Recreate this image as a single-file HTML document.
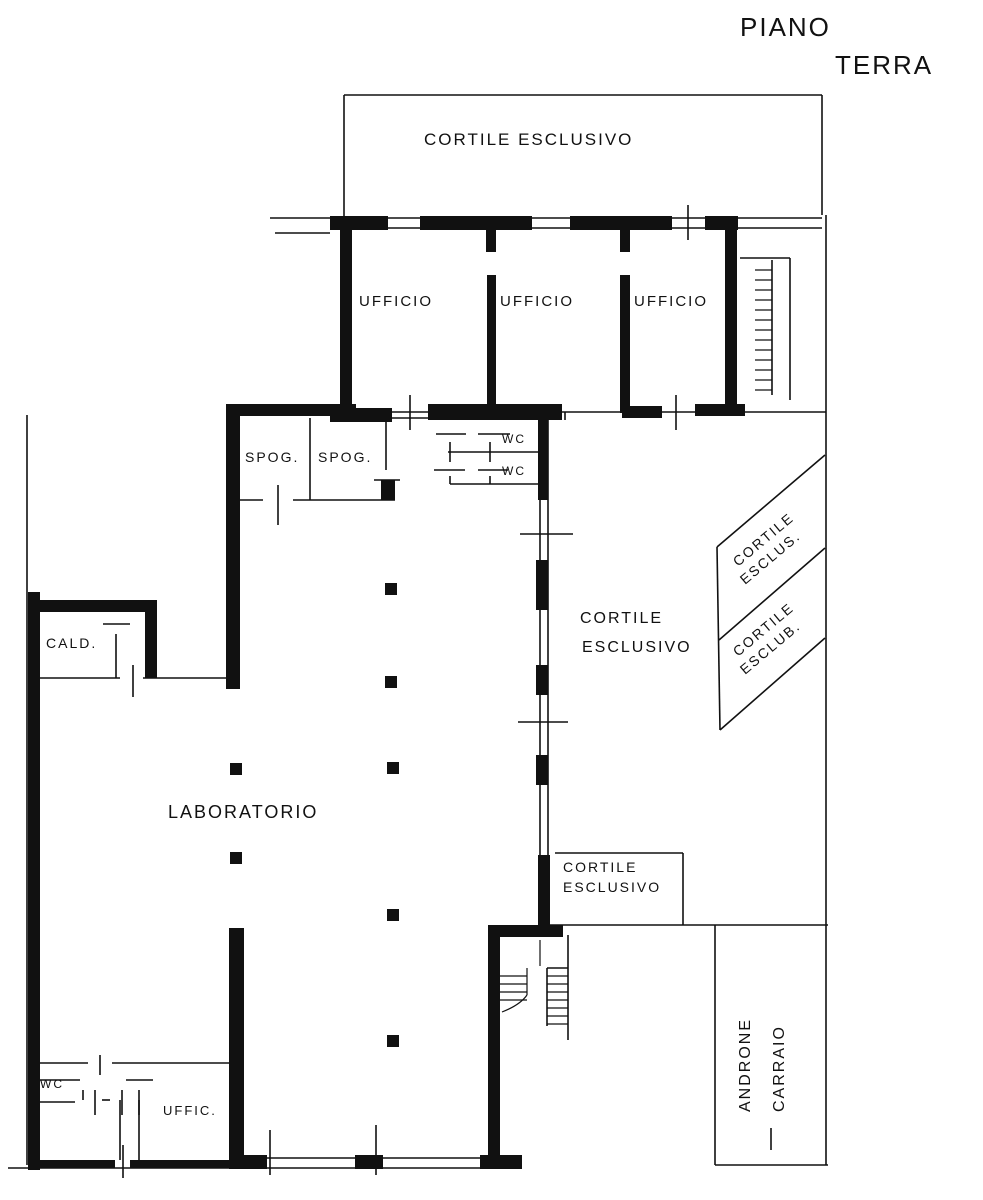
<!DOCTYPE html>
<html><head><meta charset="utf-8"><style>
html,body{margin:0;padding:0;background:#fff}
svg{display:block}
text{font-family:"Liberation Sans",sans-serif;fill:#111;letter-spacing:2px}
</style></head><body>
<svg width="983" height="1200" viewBox="0 0 983 1200" xmlns="http://www.w3.org/2000/svg">
<g stroke="#111" stroke-width="1.6" fill="none">
<line x1="344" y1="95" x2="822" y2="95"/>
<line x1="344" y1="95" x2="344" y2="218"/>
<line x1="822" y1="95" x2="822" y2="215"/>
<line x1="826" y1="215" x2="826" y2="1165"/>
<line x1="270" y1="218" x2="330" y2="218"/>
<line x1="275" y1="233" x2="330" y2="233"/>
<line x1="385" y1="218" x2="822" y2="218"/>
<line x1="385" y1="228" x2="822" y2="228"/>
<line x1="390" y1="412" x2="826" y2="412"/>
<line x1="390" y1="418" x2="430" y2="418"/>
<line x1="410" y1="395" x2="410" y2="430"/>
<line x1="676" y1="395" x2="676" y2="430"/>
<line x1="688" y1="205" x2="688" y2="240"/>
<line x1="740" y1="258" x2="790" y2="258"/>
<line x1="790" y1="258" x2="790" y2="400"/>
<line x1="772" y1="260" x2="772" y2="395"/>
<line x1="27" y1="415" x2="27" y2="1165"/>
<line x1="310" y1="418" x2="310" y2="500"/>
<line x1="240" y1="500" x2="263" y2="500"/>
<line x1="293" y1="500" x2="395" y2="500"/>
<line x1="278" y1="485" x2="278" y2="525"/>
<line x1="386" y1="422" x2="386" y2="470"/>
<line x1="374" y1="480" x2="400" y2="480"/>
<line x1="448" y1="452" x2="540" y2="452"/>
<line x1="450" y1="484" x2="540" y2="484"/>
<line x1="436" y1="434" x2="466" y2="434"/>
<line x1="478" y1="434" x2="510" y2="434"/>
<line x1="434" y1="470" x2="465" y2="470"/>
<line x1="478" y1="470" x2="508" y2="470"/>
<line x1="450" y1="442" x2="450" y2="462"/>
<line x1="490" y1="442" x2="490" y2="462"/>
<line x1="450" y1="476" x2="450" y2="484"/>
<line x1="490" y1="476" x2="490" y2="484"/>
<line x1="548" y1="420" x2="548" y2="925"/>
<line x1="540" y1="500" x2="540" y2="860"/>
<line x1="520" y1="534" x2="573" y2="534"/>
<line x1="518" y1="722" x2="568" y2="722"/>
<line x1="565" y1="412" x2="565" y2="420"/>
<line x1="717" y1="547" x2="825" y2="455"/>
<line x1="719" y1="640" x2="825" y2="548"/>
<line x1="720" y1="730" x2="825" y2="638"/>
<line x1="717" y1="547" x2="720" y2="730"/>
<line x1="555" y1="853" x2="683" y2="853"/>
<line x1="683" y1="853" x2="683" y2="925"/>
<line x1="545" y1="925" x2="828" y2="925"/>
<line x1="715" y1="925" x2="715" y2="1165"/>
<line x1="715" y1="1165" x2="828" y2="1165"/>
<line x1="771" y1="1128" x2="771" y2="1150"/>
<line x1="568" y1="935" x2="568" y2="1040"/>
<line x1="547" y1="968" x2="568" y2="968"/>
<line x1="547" y1="968" x2="547" y2="1026"/>
<g stroke-width="1.2">
<line x1="547" y1="976" x2="568" y2="976"/><line x1="547" y1="984" x2="568" y2="984"/>
<line x1="547" y1="992" x2="568" y2="992"/><line x1="547" y1="1000" x2="568" y2="1000"/>
<line x1="547" y1="1008" x2="568" y2="1008"/><line x1="547" y1="1016" x2="568" y2="1016"/>
<line x1="547" y1="1024" x2="568" y2="1024"/>
<line x1="500" y1="976" x2="527" y2="976"/><line x1="500" y1="984" x2="527" y2="984"/>
<line x1="500" y1="992" x2="527" y2="992"/><line x1="500" y1="1000" x2="527" y2="1000"/>
<line x1="527" y1="968" x2="527" y2="995"/>
<path d="M527 995 Q520 1005 502 1012"/>
<line x1="540" y1="940" x2="540" y2="966"/>
<line x1="755" y1="270" x2="772" y2="270"/><line x1="755" y1="280" x2="772" y2="280"/>
<line x1="755" y1="290" x2="772" y2="290"/><line x1="755" y1="300" x2="772" y2="300"/>
<line x1="755" y1="310" x2="772" y2="310"/><line x1="755" y1="320" x2="772" y2="320"/>
<line x1="755" y1="330" x2="772" y2="330"/><line x1="755" y1="340" x2="772" y2="340"/>
<line x1="755" y1="350" x2="772" y2="350"/><line x1="755" y1="360" x2="772" y2="360"/>
<line x1="755" y1="370" x2="772" y2="370"/><line x1="755" y1="380" x2="772" y2="380"/>
<line x1="755" y1="390" x2="772" y2="390"/>
</g>
<line x1="38" y1="678" x2="120" y2="678"/>
<line x1="143" y1="678" x2="234" y2="678"/>
<line x1="116" y1="634" x2="116" y2="678"/>
<line x1="103" y1="624" x2="130" y2="624"/>
<line x1="133" y1="665" x2="133" y2="697"/>
<line x1="35" y1="1063" x2="88" y2="1063"/>
<line x1="112" y1="1063" x2="234" y2="1063"/>
<line x1="100" y1="1055" x2="100" y2="1075"/>
<line x1="40" y1="1080" x2="80" y2="1080"/>
<line x1="126" y1="1080" x2="153" y2="1080"/>
<line x1="35" y1="1102" x2="75" y2="1102"/>
<line x1="83" y1="1090" x2="83" y2="1100"/>
<line x1="102" y1="1100" x2="110" y2="1100"/>
<line x1="120" y1="1100" x2="120" y2="1160"/>
<line x1="139" y1="1100" x2="139" y2="1160"/>
<line x1="95" y1="1090" x2="95" y2="1115"/>
<line x1="122" y1="1090" x2="122" y2="1115"/>
<line x1="139" y1="1090" x2="139" y2="1115"/>
<line x1="8" y1="1168" x2="520" y2="1168"/>
<line x1="250" y1="1158" x2="500" y2="1158"/>
<line x1="270" y1="1130" x2="270" y2="1175"/>
<line x1="376" y1="1125" x2="376" y2="1175"/>
<line x1="123" y1="1145" x2="123" y2="1178"/>
</g>
<g fill="#111">
<rect x="330" y="216" width="58" height="14"/>
<rect x="420" y="216" width="112" height="14"/>
<rect x="570" y="216" width="102" height="14"/>
<rect x="705" y="216" width="33" height="14"/>
<rect x="340" y="225" width="12" height="190"/>
<rect x="486" y="228" width="10" height="24"/>
<rect x="487" y="275" width="9" height="138"/>
<rect x="620" y="228" width="10" height="24"/>
<rect x="620" y="275" width="10" height="138"/>
<rect x="725" y="225" width="12" height="190"/>
<rect x="226" y="404" width="130" height="12"/>
<rect x="330" y="408" width="62" height="14"/>
<rect x="428" y="404" width="134" height="16"/>
<rect x="622" y="406" width="40" height="12"/>
<rect x="695" y="404" width="50" height="12"/>
<rect x="226" y="404" width="14" height="285"/>
<rect x="538" y="420" width="10" height="80"/>
<rect x="536" y="560" width="12" height="50"/>
<rect x="536" y="665" width="12" height="30"/>
<rect x="536" y="755" width="12" height="30"/>
<rect x="538" y="855" width="12" height="75"/>
<rect x="488" y="925" width="75" height="12"/>
<rect x="488" y="925" width="12" height="243"/>
<rect x="480" y="1155" width="42" height="14"/>
<rect x="28" y="592" width="12" height="578"/>
<rect x="28" y="600" width="128" height="12"/>
<rect x="145" y="600" width="12" height="78"/>
<rect x="229" y="928" width="15" height="240"/>
<rect x="229" y="1155" width="38" height="14"/>
<rect x="355" y="1155" width="28" height="14"/>
<rect x="35" y="1160" width="80" height="8"/>
<rect x="130" y="1160" width="100" height="8"/>
<rect x="385" y="583" width="12" height="12"/><rect x="385" y="676" width="12" height="12"/>
<rect x="387" y="762" width="12" height="12"/><rect x="230" y="763" width="12" height="12"/>
<rect x="230" y="852" width="12" height="12"/><rect x="387" y="909" width="12" height="12"/>
<rect x="387" y="1035" width="12" height="12"/>
<rect x="381" y="480" width="14" height="20"/>
</g>
<g font-size="15">
<text x="424" y="145" font-size="17">CORTILE  ESCLUSIVO</text>
<text x="359" y="306">UFFICIO</text>
<text x="500" y="306">UFFICIO</text>
<text x="634" y="306">UFFICIO</text>
<text x="245" y="462" font-size="14" letter-spacing="1">SPOG.</text>
<text x="318" y="462" font-size="14" letter-spacing="1">SPOG.</text>
<text x="502" y="443" font-size="12" letter-spacing="0">WC</text>
<text x="502" y="475" font-size="12" letter-spacing="0">WC</text>
<text x="580" y="623" font-size="16">CORTILE</text>
<text x="582" y="652" font-size="16">ESCLUSIVO</text>
<text x="46" y="648" font-size="14">CALD.</text>
<text x="168" y="818" font-size="18" letter-spacing="3">LABORATORIO</text>
<text x="563" y="872" font-size="14" letter-spacing="1">CORTILE</text>
<text x="563" y="892" font-size="14" letter-spacing="1">ESCLUSIVO</text>
<text x="40" y="1088" font-size="12" letter-spacing="0">WC</text>
<text x="163" y="1115" font-size="13" letter-spacing="0">UFFIC.</text>
<text x="740" y="36" font-size="26" letter-spacing="4">PIANO</text>
<text x="835" y="74" font-size="26" letter-spacing="3">TERRA</text>
<text transform="translate(750,1112) rotate(-90)" font-size="16">ANDRONE</text>
<text transform="translate(784,1112) rotate(-90)" font-size="16">CARRAIO</text>
<text transform="translate(738,567) rotate(-40)" font-size="14">CORTILE</text>
<text transform="translate(745,585) rotate(-40)" font-size="14">ESCLUS.</text>
<text transform="translate(738,657) rotate(-40)" font-size="14">CORTILE</text>
<text transform="translate(745,675) rotate(-40)" font-size="14">ESCLUB.</text>
</g>
</svg>
</body></html>
